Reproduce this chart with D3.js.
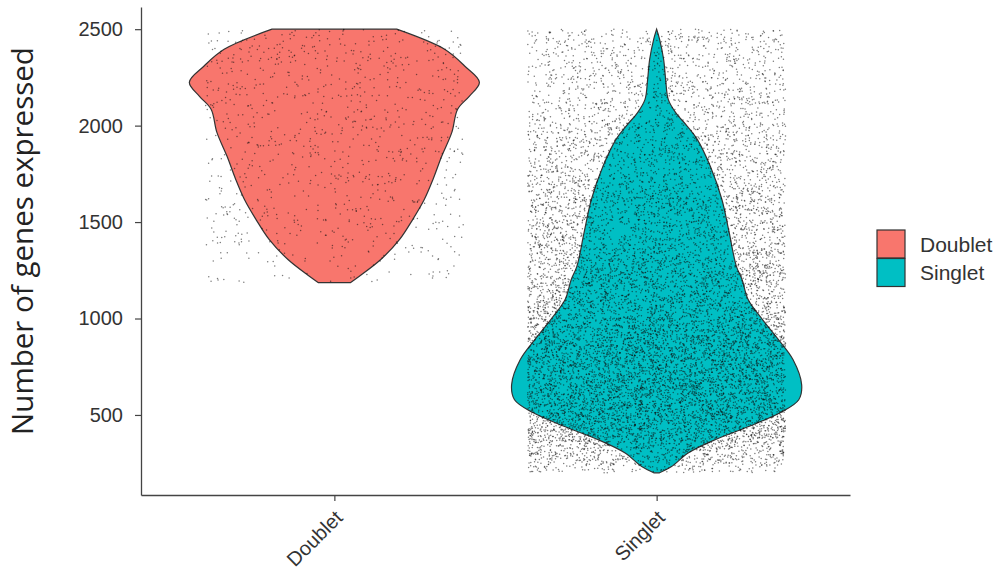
<!DOCTYPE html>
<html>
<head>
<meta charset="utf-8">
<script src="https://cdn.jsdelivr.net/npm/d3@7/dist/d3.min.js"></script>
<style>
  body { margin: 0; background: #fff; }
</style>
</head>
<body>
<script>
// ---------------- data ----------------
const categories = ["Doublet", "Singlet"];
const fillColors = ["#F8766D", "#00BFC4"];
const yTicks = [500, 1000, 1500, 2000, 2500];
const yTitle = "Number of genes expressed";

// violin outline: gene count value and relative density (max = 1)
const doubletValues  = [1186, 1218, 1306, 1410, 1513, 1617, 1721, 1841, 1965, 2085, 2152, 2225, 2308, 2396, 2500];
const doubletDensity = [0.11, 0.17, 0.32, 0.45, 0.54, 0.62, 0.68, 0.74, 0.81, 0.85, 0.93, 1.00, 0.90, 0.76, 0.43];

const singletValues  = [200, 231, 304, 371, 439, 511, 579, 657, 787, 890, 994, 1100, 1200, 1270, 1446, 1617, 1789, 1929, 1998, 2069, 2136, 2240, 2344, 2448, 2500];
const singletDensity = [0.02, 0.10, 0.22, 0.40, 0.63, 0.85, 0.98, 1.00, 0.94, 0.84, 0.73, 0.63, 0.59, 0.55, 0.50, 0.45, 0.37, 0.28, 0.21, 0.13, 0.08, 0.062, 0.048, 0.02, 0.0];

// jittered cells: how many, and relative dot density along the value axis
const doubletCount = 950;
const singletCount = 12000;
const doubletPointValues  = [1186, 1300, 1500, 1700, 1900, 2100, 2250, 2400, 2500];
const doubletPointDensity = [0.35, 0.45, 0.65, 0.75, 0.85, 0.95, 1.00, 0.95, 0.85];
const singletPointValues  = [200, 300, 400, 500, 700, 900, 1100, 1400, 1700, 1900, 2200, 2500];
const singletPointDensity = [0.25, 0.65, 0.95, 1.00, 1.00, 0.85, 0.70, 0.55, 0.45, 0.37, 0.27, 0.20];

// ---------------- chart ----------------
const W = 1001, H = 577;
const svg = d3.select("body").append("svg").attr("width", W).attr("height", H);

const x = d3.scalePoint().domain(categories).range([141, 850]).padding(0.6);
const y = d3.scaleLinear().domain([85, 2615]).range([495, 7]);
const halfW = d3.scaleLinear().domain([0, 1]).range([0, 0.45 * x.step()]);
const jitterW = 0.4 * x.step();
const color = d3.scaleOrdinal().domain(categories).range(fillColors);

const violins = [
  { cat: "Doublet", v: doubletValues, d: doubletDensity },
  { cat: "Singlet", v: singletValues, d: singletDensity }
];

const area = d3.area()
  .curve(d3.curveCatmullRom.alpha(0.5))
  .y(p => y(p[0]))
  .x0(p => p[2] - halfW(p[1]))
  .x1(p => p[2] + halfW(p[1]));

svg.append("g").selectAll("path").data(violins).join("path")
  .attr("d", vl => area(vl.v.map((val, i) => [val, vl.d[i], x(vl.cat)])))
  .attr("fill", vl => color(vl.cat))
  .attr("stroke", "#333")
  .attr("stroke-width", 1.2);

// deterministic sampler for the jittered points
function makeRng(seed) {
  let s = seed >>> 0;
  return function () {
    s = (s + 0x6D2B79F5) >>> 0;
    let t = s;
    t = Math.imul(t ^ (t >>> 15), t | 1);
    t ^= t + Math.imul(t ^ (t >>> 7), t | 61);
    return ((t ^ (t >>> 14)) >>> 0) / 4294967296;
  };
}
function sampler(vals, dens) {
  const interp = v => {
    const i = Math.max(1, d3.bisectLeft(vals, v));
    const a = vals[i - 1], b = vals[Math.min(i, vals.length - 1)];
    const da = dens[i - 1], db = dens[Math.min(i, vals.length - 1)];
    return b === a ? da : da + (db - da) * (v - a) / (b - a);
  };
  const lo = vals[0], hi = vals[vals.length - 1];
  const grid = d3.range(0, 401).map(k => lo + (hi - lo) * k / 400);
  const cdf = [0];
  for (let k = 1; k < grid.length; k++) {
    cdf.push(cdf[k - 1] + (interp(grid[k - 1]) + interp(grid[k])) / 2);
  }
  const total = cdf[cdf.length - 1];
  return u => {
    const t = u * total;
    let k = d3.bisectLeft(cdf, t);
    k = Math.min(Math.max(k, 1), cdf.length - 1);
    const f = (t - cdf[k - 1]) / ((cdf[k] - cdf[k - 1]) || 1);
    return grid[k - 1] + f * (grid[k] - grid[k - 1]);
  };
}
const points = [];
[
  { cat: "Doublet", n: doubletCount, v: doubletPointValues, d: doubletPointDensity, seed: 11 },
  { cat: "Singlet", n: singletCount, v: singletPointValues, d: singletPointDensity, seed: 29 }
].forEach(g => {
  const rng = makeRng(g.seed);
  const draw = sampler(g.v, g.d);
  for (let i = 0; i < g.n; i++) {
    points.push({ cat: g.cat, value: draw(rng()), jit: rng() * 2 - 1 });
  }
});

svg.append("g").selectAll("circle").data(points).join("circle")
  .attr("cx", p => x(p.cat) + p.jit * jitterW)
  .attr("cy", p => y(p.value))
  .attr("r", 0.75)
  .attr("fill", "#111")
  .attr("fill-opacity", 0.55);

// axes
const yAxis = svg.append("g").attr("transform", "translate(141,0)")
  .call(d3.axisLeft(y).tickValues(yTicks).tickFormat(d3.format("d"))
    .tickSize(6).tickSizeOuter(0).tickPadding(12));
yAxis.selectAll("text")
  .style("font-size", "20px").style("fill", "#333")
  .style("font-family", "'Liberation Sans', Arial, sans-serif");

const xAxis = svg.append("g").attr("transform", "translate(0,495)")
  .call(d3.axisBottom(x).tickSize(6).tickSizeOuter(0));
xAxis.selectAll("text").remove();
xAxis.selectAll(".tick").append("text")
  .attr("transform", "translate(9,24) rotate(-45)")
  .attr("text-anchor", "end")
  .style("fill", "#333")
  .style("font-size", "20px")
  .style("font-family", "'Liberation Sans', Arial, sans-serif")
  .text(d => d);

svg.selectAll(".domain").attr("stroke", "#444").attr("stroke-width", 1.3);
svg.selectAll(".tick line").attr("stroke", "#444").attr("stroke-width", 1.2);

// y title
const yt = svg.append("text")
  .attr("transform", "translate(33,241) rotate(-90)")
  .attr("text-anchor", "middle")
  .style("font-family", "'Open Sans', sans-serif")
  .style("font-size", "26px")
  .style("fill", "#222")
  .text(yTitle);
const len = yt.node().getComputedTextLength();
yt.style("font-size", (26 * 388 / len) + "px");

// legend
const legend = svg.append("g").attr("transform", "translate(877,230)");
const li = legend.selectAll("g").data(categories).join("g")
  .attr("transform", (d, i) => `translate(0,${i * 28.5})`);
li.append("rect").attr("width", 28).attr("height", 28)
  .attr("fill", d => color(d)).attr("stroke", "#333").attr("stroke-width", 1.2);
li.append("text").attr("x", 43).attr("y", 14).attr("dy", "0.36em")
  .style("font-size", "21px").style("fill", "#333")
  .style("font-family", "'Liberation Sans', Arial, sans-serif")
  .text(d => d);
</script>
</body>
</html>
